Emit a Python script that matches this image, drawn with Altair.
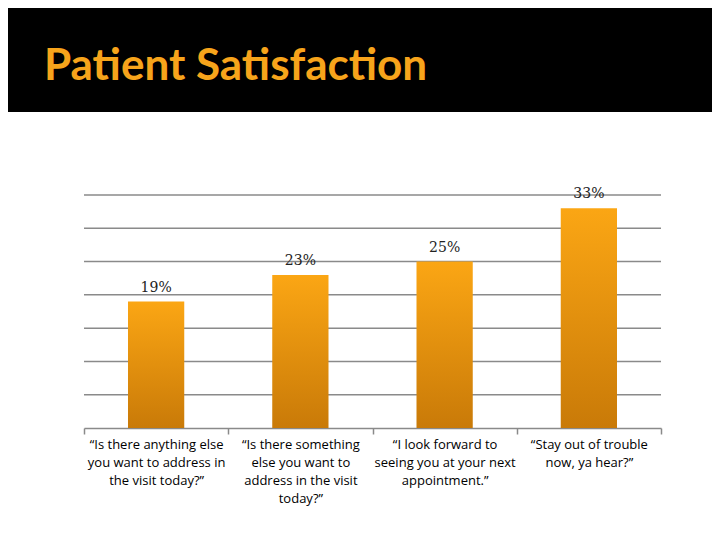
import altair as alt
import pandas as pd

categories = [
    "“Is there anything else|you want to address in|the visit today?”",
    "“Is there something|else you want to|address in the visit|today?”",
    "“I look forward to|seeing you at your next|appointment.”",
    "“Stay out of trouble|now, ya hear?”",
]
values = [19, 23, 25, 33]
value_labels = ["19%", "23%", "25%", "33%"]
grid_values = [5, 10, 15, 20, 25, 30, 35]
title_text = ["Patient Satisfaction"]

df = pd.DataFrame({"cat": categories, "val": values, "lab": value_labels})
gdf = pd.DataFrame({"g": grid_values})

W, H = 577, 233
PL, PT, PR, PB = 76, 187, 51, 104

y_scale = alt.Scale(domain=[0, 35], nice=False)

x_enc = alt.X(
    "cat:N",
    sort=None,
    scale=alt.Scale(paddingInner=0, paddingOuter=0),
    axis=alt.Axis(
        title=None,
        labelAngle=0,
        labelExpr="split(datum.label, '|')",
        labelFont="Open Sans",
        labelFontSize=13,
        labelColor="#000000",
        labelLineHeight=18,
        labelBaseline="top",
        labelPadding=4,
        labelLimit=170,
        tickBand="extent",
        tickSize=6,
        tickColor="#8a8a8a",
        tickWidth=1.5,
        domainColor="#8a8a8a",
        domainWidth=1.5,
        grid=False,
    ),
)
y_enc = alt.Y("val:Q", scale=y_scale, axis=None)

grid = alt.Chart(gdf).mark_rule(color="#8a8a8a", strokeWidth=1.5).encode(
    y=alt.Y("g:Q", scale=y_scale, axis=None),
    x=alt.value(0),
    x2=alt.value(W),
)

bars = alt.Chart(df).mark_bar(
    width=alt.RelativeBandSize(0.39),
    color=alt.Gradient(
        gradient="linear",
        stops=[
            alt.GradientStop(color="#FBA614", offset=0),
            alt.GradientStop(color="#C97A08", offset=1),
        ],
        x1=0, x2=0, y1=0, y2=1,
    ),
).encode(x=x_enc, y=y_enc)

labels = alt.Chart(df).mark_text(
    baseline="bottom",
    dy=-7,
    font="DejaVu Serif",
    fontSize=14,
    color="#222222",
).encode(x=alt.X("cat:N", sort=None), y=alt.Y("val:Q", scale=y_scale), text="lab:N")

band = alt.Chart(pd.DataFrame({"k": [0]})).mark_rect(color="#000000").encode(
    x=alt.value(-PL), x2=alt.value(W + PR), y=alt.value(-PT), y2=alt.value(104 - PT)
)

title = alt.Chart(pd.DataFrame({"t": title_text})).mark_text(
    align="left",
    baseline="alphabetic",
    font="Lato",
    fontWeight="bold",
    fontSize=44,
    color="#F7A41B",
).encode(x=alt.value(-40), y=alt.value(-115), text="t:N")

chart = alt.layer(grid, bars, labels, band, title).properties(
    width=W,
    height=H,
    padding={"left": PL, "top": PT, "right": PR, "bottom": PB},
    autosize="none",
    background="#ffffff",
).configure_view(strokeWidth=0)

chart.save("out.html", embed_options={"renderer": "svg", "actions": False})
